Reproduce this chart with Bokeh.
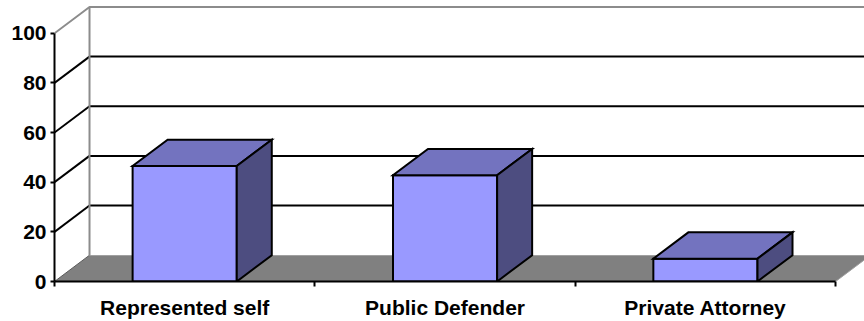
from bokeh.plotting import figure
from bokeh.models import Range1d, LinearAxis, FixedTicker, Grid
from bokeh.embed import file_html
from bokeh.resources import INLINE

# Data
categories = ["Represented self", "Public Defender", "Private Attorney"]
values = [46.5, 42.8, 9.2]
y_ticks = [0, 20, 40, 60, 80, 100]
gridlines = [20, 40, 60, 80]

# Style
FRONT = "#9999FF"
TOP = "#7373BF"
SIDE = "#4D4D80"
FLOOR = "#808080"
WALL_EDGE = "#8C8C8C"
FONT = "Liberation Sans"

# 3D depth offset (category units, value units) and bar width
DX = 0.1345
DY = 10.6
BAR_W = 0.4
N = len(categories)

p = figure(width=864, height=321, output_backend="svg", toolbar_location=None,
           x_range=Range1d(0, 3.111), y_range=Range1d(0, 113.2),
           x_axis_location=None, y_axis_location=None,
           min_border_left=54, min_border_right=0,
           min_border_top=0, min_border_bottom=38)
p.outline_line_color = None
p.background_fill_color = "white"
p.border_fill_color = "white"
p.center = [r for r in p.center if not isinstance(r, Grid)]

# floor
p.patch([0, N, N + DX, DX], [0, 0, DY, DY], fill_color=FLOOR, line_color=None)
p.line([0, DX], [0, DY], line_color="#5A5A5A", line_width=1)
p.line([N, N + DX], [0, DY], line_color="#A0A0A0", line_width=1)

# back wall gridlines and side-wall diagonals
p.segment(x0=[DX] * len(gridlines), y0=[g + DY for g in gridlines],
          x1=[N + DX] * len(gridlines), y1=[g + DY for g in gridlines],
          line_color="black", line_width=2)
p.segment(x0=[0] * len(gridlines), y0=gridlines,
          x1=[DX] * len(gridlines), y1=[g + DY for g in gridlines],
          line_color="black", line_width=2)

# wall edges
top = y_ticks[-1]
p.line([0, DX, N + DX], [top, top + DY, top + DY], line_color=WALL_EDGE, line_width=2)
p.line([DX, DX], [DY, top + DY], line_color=WALL_EDGE, line_width=2)

# bars: front, top and side faces
centers = [i + 0.5 for i in range(N)]
p.vbar(x=centers, width=BAR_W, top=values, bottom=0,
       fill_color=FRONT, line_color="black", line_width=2, line_join="miter")
top_xs, top_ys, side_xs, side_ys = [], [], [], []
for c, v in zip(centers, values):
    l, r = c - BAR_W / 2, c + BAR_W / 2
    top_xs.append([l, r, r + DX, l + DX])
    top_ys.append([v, v, v + DY, v + DY])
    side_xs.append([r, r + DX, r + DX, r])
    side_ys.append([0, DY, v + DY, v])
p.patches(top_xs, top_ys, fill_color=TOP, line_color="black", line_width=2, line_join="miter")
p.patches(side_xs, side_ys, fill_color=SIDE, line_color="black", line_width=2, line_join="miter")

# value axis
yaxis = LinearAxis(ticker=FixedTicker(ticks=y_ticks), bounds=(0, 100))
yaxis.axis_line_color = "black"
yaxis.axis_line_width = 2
yaxis.major_tick_out = 4
yaxis.major_tick_in = 0
yaxis.major_tick_line_color = "black"
yaxis.major_tick_line_width = 2
yaxis.minor_tick_line_color = None
yaxis.major_label_standoff = 4
yaxis.major_label_text_font = FONT
yaxis.major_label_text_font_style = "bold"
yaxis.major_label_text_font_size = "21px"
yaxis.major_label_text_color = "black"
p.add_layout(yaxis, "left")

# category axis: labels at centres, short ticks at the category boundaries
xaxis = LinearAxis(ticker=FixedTicker(ticks=centers, minor_ticks=list(range(N + 1))),
                   bounds=(0, N))
xaxis.major_label_overrides = {c: name for c, name in zip(centers, categories)}
xaxis.axis_line_color = "black"
xaxis.axis_line_width = 2
xaxis.major_tick_out = 0
xaxis.major_tick_in = 0
xaxis.minor_tick_out = 5
xaxis.minor_tick_in = 0
xaxis.minor_tick_line_color = "black"
xaxis.minor_tick_line_width = 2
xaxis.major_label_standoff = 9
xaxis.major_label_text_font = FONT
xaxis.major_label_text_font_style = "bold"
xaxis.major_label_text_font_size = "21px"
xaxis.major_label_text_color = "black"
p.add_layout(xaxis, "below")

open("out.html", "w").write(file_html(p, INLINE))
